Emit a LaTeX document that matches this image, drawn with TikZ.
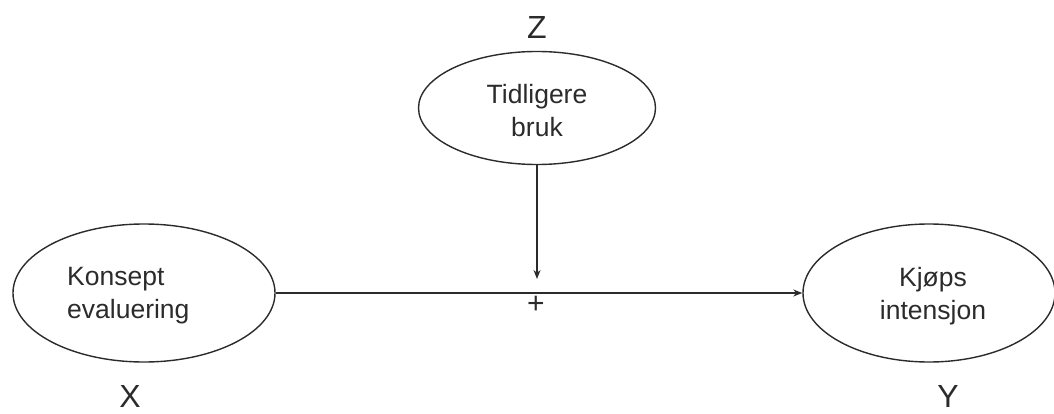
\documentclass[tikz,border=0pt]{standalone}
\usepackage{fontspec}
\setmainfont{Liberation Sans}
\usetikzlibrary{shapes.geometric,arrows.meta}
\definecolor{ink}{HTML}{2B2B2B}
\begin{document}
\begin{tikzpicture}[x=1pt,y=-1pt,
  oval/.style={ellipse,draw=ink,line width=1.4pt,inner sep=0pt},
  txt/.style={text=ink,font=\fontsize{26.5}{33}\selectfont,inner sep=0pt},
  var/.style={text=ink,font=\fontsize{32}{32}\selectfont,inner sep=0pt},
  conn/.style={draw=ink,line width=1.4pt,-{Stealth[length=9pt,width=7pt]}}]
\useasboundingbox (0,0) rectangle (1054,414);
\node[oval,minimum width=262pt,minimum height=138pt] (x) at (144,293) {};
\node[oval,minimum width=237pt,minimum height=113pt] (z) at (537,108) {};
\node[oval,minimum width=252pt,minimum height=138pt] (y) at (929,293) {};
\node[txt,align=left,anchor=west] (xt) at (67,296) {Konsept\\evaluering};
\node[txt,align=center] (zt) at (537,111) {Tidligere\\bruk};
\node[txt,align=center] (yt) at (933,296) {Kjøps\\intensjon};
\node[var] (zl) at (537,27) {Z};
\node[var] (xl) at (130,396) {X};
\node[var] (yl) at (948,396) {Y};
\coordinate (m) at (537,279);
\node[text=ink,font=\fontsize{30}{30}\selectfont,inner sep=0pt] (plus) at (536,305) {+};
\draw[conn] (x.east) -- (y.west);
\draw[conn] (z.south) -- (m);
\end{tikzpicture}
\end{document}
